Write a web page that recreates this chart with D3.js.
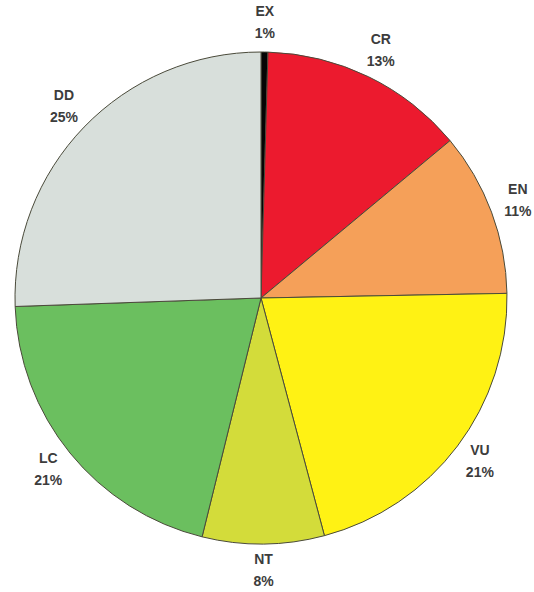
<!DOCTYPE html>
<html>
<head>
<meta charset="utf-8">
<script src="https://cdn.jsdelivr.net/npm/d3@7/dist/d3.min.js"></script>
<style>
  html, body { margin: 0; padding: 0; background: #fff; }
  svg { display: block; }
</style>
</head>
<body>
<svg id="chart" width="534" height="592"></svg>
<script>
// Data
const categories = ["EX", "CR", "EN", "VU", "NT", "LC", "DD"];
const values = [0.45, 13.5, 10.75, 21.15, 8.0, 20.6, 25.55]; // share of circle, %
const labels = ["1%", "13%", "11%", "21%", "8%", "21%", "25%"];
const colors = ["#050505", "#ec1a2e", "#f5a059", "#fff214", "#d3dc3a", "#6bbf5f", "#d8dfdb"];

const svg = d3.select("#chart");
const cx = 261, cy = 298, r = 246, labelR = 274;

const pie = d3.pie().sort(null).value(d => d.v);
const data = categories.map((c, i) => ({ c, v: values[i], l: labels[i], col: colors[i] }));
const arcs = pie(data);

const arc = d3.arc().innerRadius(0).outerRadius(r);
const labelArc = d3.arc().innerRadius(labelR).outerRadius(labelR);

const g = svg.append("g").attr("transform", `translate(${cx},${cy})`);

g.selectAll("path.slice")
  .data(arcs)
  .join("path")
  .attr("class", "slice")
  .attr("d", arc)
  .attr("fill", d => d.data.col)
  .attr("stroke", "#4a4a3a")
  .attr("stroke-width", 1)
  .attr("stroke-linejoin", "round");

const t = g.selectAll("text.lbl")
  .data(arcs)
  .join("text")
  .attr("class", "lbl")
  .attr("transform", d => {
    const [x, y] = labelArc.centroid(d);
    return `translate(${x},${y})`;
  })
  .attr("text-anchor", "middle")
  .attr("font-family", "Arial, 'Liberation Sans', sans-serif")
  .attr("font-size", 14)
  .attr("font-weight", "bold")
  .attr("fill", "#3c3c3c");

t.append("tspan").attr("x", 0).attr("y", -8).text(d => d.data.c);
t.append("tspan").attr("x", 0).attr("y", 14).text(d => d.data.l);
</script>
</body>
</html>
